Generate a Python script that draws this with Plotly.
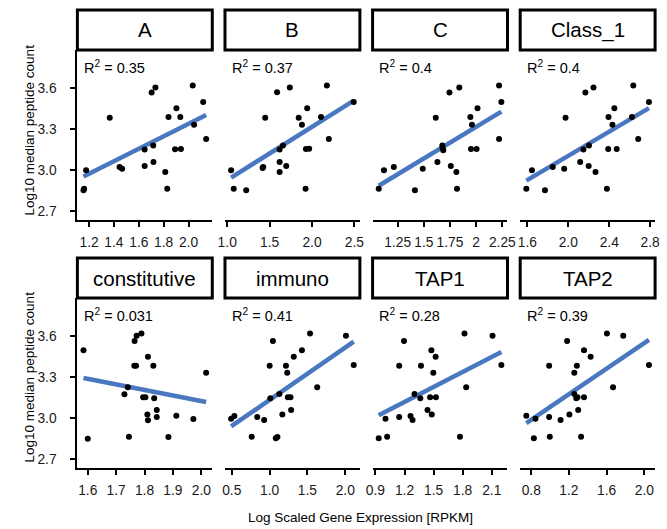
import numpy as np
import plotly.graph_objects as go

# ---- data: expression (x) vs log10 median peptide count (y) per gene set ----
panels = ["A", "B", "C", "Class_1", "constitutive", "immuno", "TAP1", "TAP2"]
r2_labels = ["0.35", "0.37", "0.4", "0.4", "0.031", "0.41", "0.28", "0.39"]

x_A = [1.155, 1.160, 1.176, 1.366, 1.445, 1.466, 1.647, 1.647, 1.703, 1.734, 1.716, 1.718,
       1.813, 1.829, 1.839, 1.892, 1.903, 1.934, 1.939, 2.034, 2.045, 2.118, 2.142]
y_A = [2.851, 2.863, 2.997, 3.381, 3.021, 3.009, 3.148, 3.028, 3.564, 3.602, 3.177, 3.058,
       2.985, 2.863, 3.386, 3.150, 3.449, 3.386, 3.153, 3.615, 3.330, 3.495, 3.225]

x_B = [1.046, 1.077, 1.224, 1.417, 1.425, 1.448, 1.588, 1.618, 1.618, 1.618, 1.657, 1.696,
       1.738, 1.843, 1.881, 1.924, 1.928, 1.966, 1.943, 2.106, 2.175, 2.198, 2.492]
y_B = [2.997, 2.863, 2.851, 3.014, 3.021, 3.381, 3.566, 3.058, 2.985, 3.148, 3.177, 3.028,
       3.602, 3.381, 3.330, 2.863, 3.153, 3.155, 3.449, 3.386, 3.615, 3.225, 3.495]

x_C = [1.069, 1.119, 1.213, 1.415, 1.490, 1.614, 1.630, 1.677, 1.680, 1.686, 1.745, 1.758,
       1.811, 1.817, 1.839, 1.945, 1.960, 1.951, 2.004, 2.013, 2.219, 2.219, 2.241]
y_C = [2.863, 2.997, 3.021, 2.851, 3.009, 3.381, 3.058, 3.177, 3.160, 3.143, 3.564, 3.028,
       2.985, 2.863, 3.602, 3.386, 3.330, 3.153, 3.153, 3.449, 3.615, 3.225, 3.495]

x_class1 = [1.590, 1.645, 1.772, 1.848, 1.960, 1.973, 2.116, 2.148, 2.167, 2.199, 2.202, 2.246,
            2.266, 2.377, 2.390, 2.393, 2.431, 2.450, 2.473, 2.622, 2.635, 2.683, 2.788]
y_class1 = [2.863, 2.997, 2.851, 3.021, 3.009, 3.381, 3.058, 3.148, 3.564, 3.028, 3.177, 3.602,
            2.985, 2.863, 3.153, 3.386, 3.330, 3.449, 3.153, 3.386, 3.615, 3.225, 3.495]

x_const = [1.585, 1.600, 1.729, 1.741, 1.745, 1.764, 1.770, 1.765, 1.772, 1.789, 1.795, 1.803,
           1.812, 1.810, 1.812, 1.831, 1.834, 1.843, 1.843, 1.884, 1.912, 1.972, 2.017]
y_const = [3.493, 2.848, 3.172, 3.223, 2.863, 3.381, 3.381, 3.561, 3.600, 3.615, 3.150, 3.150,
           3.447, 3.024, 2.982, 3.381, 3.143, 3.058, 3.007, 2.861, 3.016, 2.992, 3.330]

x_immuno = [0.491, 0.534, 0.763, 0.836, 0.927, 1.000, 1.009, 1.043, 1.082, 1.103, 1.129, 1.168,
            1.216, 1.233, 1.241, 1.276, 1.284, 1.319, 1.427, 1.534, 1.629, 2.009, 2.112]
y_immuno = [2.994, 3.014, 2.863, 3.007, 2.985, 3.381, 3.143, 3.561, 2.851, 2.861, 3.174, 3.024,
            3.381, 3.330, 3.150, 3.150, 3.058, 3.447, 3.493, 3.615, 3.223, 3.600, 3.386]

x_tap1 = [0.934, 1.004, 1.021, 1.145, 1.145, 1.195, 1.262, 1.283, 1.303, 1.363, 1.370, 1.437,
          1.464, 1.477, 1.481, 1.497, 1.521, 1.524, 1.772, 1.819, 1.836, 2.108, 2.199]
y_tap1 = [2.851, 2.994, 2.863, 3.381, 3.007, 3.561, 3.014, 2.985, 3.174, 3.143, 3.381, 3.058,
          3.150, 3.493, 3.024, 3.330, 3.447, 3.150, 2.863, 3.615, 3.223, 3.600, 3.386]

x_tap2 = [0.748, 0.828, 0.845, 0.990, 0.990, 0.997, 1.111, 1.181, 1.205, 1.257, 1.257, 1.278,
          1.291, 1.284, 1.298, 1.329, 1.360, 1.360, 1.430, 1.603, 1.668, 1.776, 2.049]
y_tap2 = [3.016, 2.851, 2.994, 3.381, 3.007, 2.863, 2.985, 3.561, 3.024, 3.330, 3.174, 3.143,
          3.150, 3.381, 3.058, 2.863, 3.493, 3.150, 3.447, 3.615, 3.223, 3.600, 3.386]

# ---- tick labels ----
ticks_A = ["1.2", "1.4", "1.6", "1.8", "2.0"]
ticks_B = ["1.0", "1.5", "2.0", "2.5"]
ticks_C = ["1.25", "1.5", "1.75", "2", "2.25"]
ticks_class1 = ["1.6", "2.0", "2.4", "2.8"]
ticks_const = ["1.6", "1.7", "1.8", "1.9", "2.0"]
ticks_immuno = ["0.5", "1.0", "1.5", "2.0"]
ticks_tap1 = ["0.9", "1.2", "1.5", "1.8", "2.1"]
ticks_tap2 = ["0.8", "1.2", "1.6", "2.0"]
y_ticks = ["2.7", "3.0", "3.3", "3.6"]

xs_all = [x_A, x_B, x_C, x_class1, x_const, x_immuno, x_tap1, x_tap2]
ys_all = [y_A, y_B, y_C, y_class1, y_const, y_immuno, y_tap1, y_tap2]
ticks_all = [ticks_A, ticks_B, ticks_C, ticks_class1, ticks_const, ticks_immuno, ticks_tap1, ticks_tap2]

# ---- layout geometry (pixels) ----
W, H = 667, 529
cols = [(72, 210), (223, 361), (374, 512), (525, 663)]
rows = [(10, 50, 220), (258, 298, 468)]  # strip top, panel top, panel bottom
y_range = [2.634, 3.875]

FONT = "Liberation Sans, Arial, sans-serif"
BLUE = "#4A78C0"
TICK_SIZE = 13.8

fig = go.Figure()
layout = {}
shapes = []
annotations = []

for i, name in enumerate(panels):
    r, c = divmod(i, 4)
    k = i + 1
    xa = "x" if k == 1 else f"x{k}"
    ya = "y" if k == 1 else f"y{k}"
    xs = np.array(xs_all[i])
    ys = np.array(ys_all[i])

    # least-squares fit line over the data span
    slope, icpt = np.polyfit(xs, ys, 1)
    lx = np.array([xs.min(), xs.max()])
    fig.add_trace(go.Scatter(x=lx, y=icpt + slope * lx, mode="lines",
                             line=dict(color=BLUE, width=4.5),
                             xaxis=xa, yaxis=ya, showlegend=False, hoverinfo="skip"))
    fig.add_trace(go.Scatter(x=xs, y=ys, mode="markers",
                             marker=dict(color="black", size=6),
                             xaxis=xa, yaxis=ya, showlegend=False))

    span = xs.max() - xs.min()
    x0, x1 = cols[c]
    st, pt, pb = rows[r]
    tv = [float(t) for t in ticks_all[i]]

    layout["xaxis" if k == 1 else f"xaxis{k}"] = dict(
        domain=[x0 / W, x1 / W], anchor=ya,
        range=[xs.min() - 0.05 * span, xs.max() + 0.05 * span],
        tickvals=tv, ticktext=ticks_all[i],
        showline=True, linecolor="black", linewidth=2,
        ticks="outside", ticklen=5, tickwidth=2, tickcolor="black",
        showgrid=False, zeroline=False, ticklabelstandoff=3,
        tickfont=dict(family=FONT, size=TICK_SIZE, color="#1a1a1a"),
    )
    layout["yaxis" if k == 1 else f"yaxis{k}"] = dict(
        domain=[1 - pb / H, 1 - pt / H], anchor=xa, range=y_range,
        tickvals=[float(t) for t in y_ticks], ticktext=y_ticks,
        showline=(c == 0), showticklabels=(c == 0),
        ticks="outside" if c == 0 else "",
        linecolor="black", linewidth=2, ticklen=5, tickwidth=2, tickcolor="black",
        showgrid=False, zeroline=False, ticklabelstandoff=11,
        tickfont=dict(family=FONT, size=TICK_SIZE, color="#1a1a1a"),
    )

    # facet strip
    shapes.append(dict(type="rect", xref="paper", yref="paper",
                       x0=x0 / W, x1=x1 / W, y0=1 - pt / H, y1=1 - st / H,
                       line=dict(color="black", width=3), fillcolor="white"))
    annotations.append(dict(text=name, xref="paper", yref="paper",
                            x=(x0 + x1) / 2 / W, y=1 - (st + pt) / 2 / H,
                            showarrow=False, xanchor="center", yanchor="middle",
                            font=dict(family=FONT, size=20.5, color="black")))
    # R^2 label
    annotations.append(dict(text=f"R<sup>2</sup> = {r2_labels[i]}", xref="paper", yref="paper",
                            x=(x0 + 5) / W, y=1 - (pt + 17) / H,
                            showarrow=False, xanchor="left", yanchor="middle",
                            font=dict(family=FONT, size=14.5, color="black")))

# axis titles
for yc in (130, 377):
    annotations.append(dict(text="Log10 median peptide count", xref="paper", yref="paper",
                            x=22 / W, y=1 - yc / H, textangle=-90, showarrow=False,
                            xanchor="center", yanchor="middle",
                            font=dict(family=FONT, size=13.5, color="black")))
annotations.append(dict(text="Log Scaled Gene Expression [RPKM]", xref="paper", yref="paper",
                        x=362 / W, y=1 - 517 / H, showarrow=False,
                        xanchor="center", yanchor="middle",
                        font=dict(family=FONT, size=13.5, color="black")))

fig.update_layout(
    width=W, height=H, margin=dict(l=0, r=0, t=0, b=0),
    paper_bgcolor="white", plot_bgcolor="white",
    shapes=shapes, annotations=annotations, **layout,
)
fig.write_html("out.html")
